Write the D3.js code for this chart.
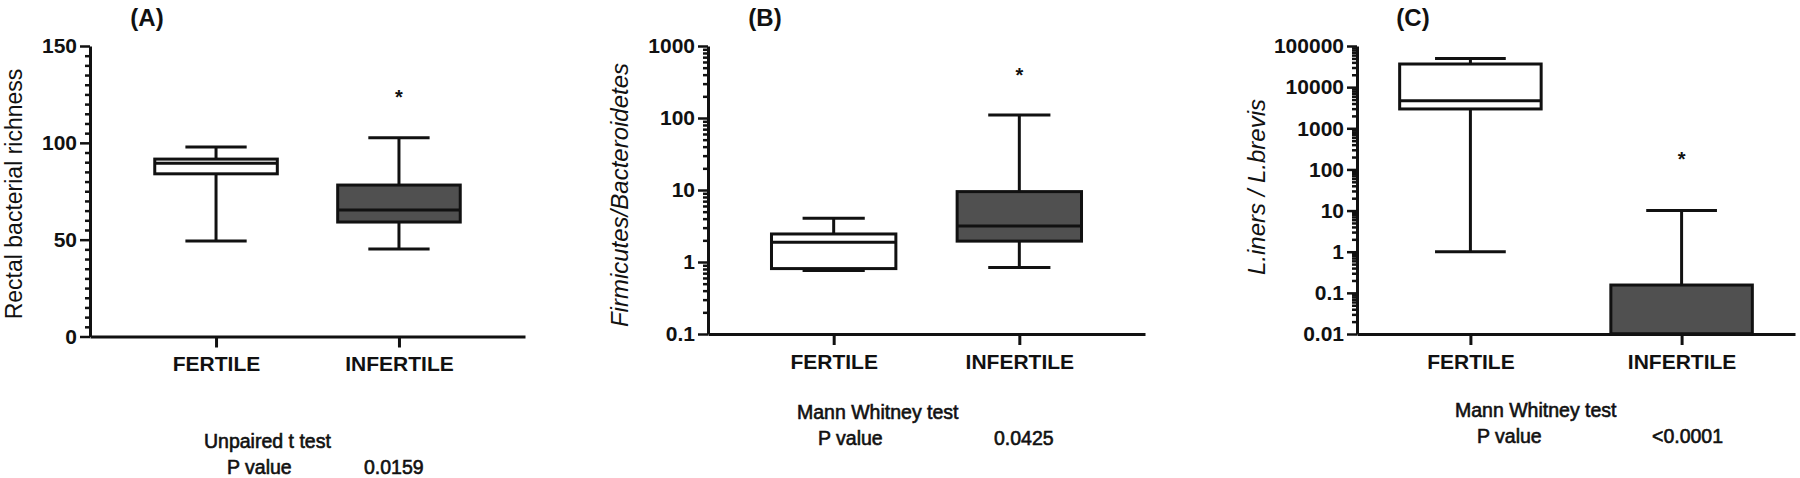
<!DOCTYPE html>
<html><head><meta charset="utf-8">
<script src="https://cdn.jsdelivr.net/npm/d3@7"></script>
<style>
body{margin:0;background:#fff;}
svg text{font-family:"Liberation Sans",Arial,sans-serif;fill:#111;}
</style></head>
<body><svg id="c" width="1800" height="478"></svg>
<script>
// ---------- data ----------
const categories = ["FERTILE", "INFERTILE"];
// box stats per group: [min, q1, median, q3, max]
const richnessStats = [[49.3, 84, 89.5, 91.6, 97.8], [45.2, 59.1, 65.3, 78.2, 102.6]];
const firmBactStats = [[0.76, 0.81, 1.88, 2.45, 4.05], [0.84, 1.95, 3.16, 9.5, 110]];
const inersBrevisStats = [[1, 2950, 4690, 36500, 50000], [0.01, 0.01, 0.01, 0.155, 10]];
// significance star (y value above INFERTILE)
const starValues = [125.6, 450, 224];
const tickLabelsA = ["0", "50", "100", "150"];
const tickLabelsB = ["0.1", "1", "10", "100", "1000"];
const tickLabelsC = ["0.01", "0.1", "1", "10", "100", "1000", "10000", "100000"];
const panelTitles = ["(A)", "(B)", "(C)"];
const yTitles = ["Rectal bacterial richness", "Firmicutes/Bacteroidetes", "L.iners / L.brevis"];
const testNames = ["Unpaired t test", "Mann Whitney test", "Mann Whitney test"];
const pValues = ["0.0159", "0.0425", "<0.0001"];

// ---------- drawing ----------
const svg = d3.select("#c");
const fillColors = ["#ffffff", "#505050"];

function drawPanel(o) {
  const g = svg.append("g");
  const x = d3.scalePoint().domain(categories).range([o.axisX, o.endX]).padding(o.pad);
  const y = o.y;
  const bw = x.step() * 0.67;

  // y axis major
  const ya = g.append("g").attr("transform", `translate(${o.axisX},0)`)
    .call(d3.axisLeft(y).tickValues(o.ticks.map(Number)).tickFormat((d, i) => o.ticks[i])
      .tickSize(10).tickSizeOuter(0).tickPadding(3));
  ya.select(".domain").attr("stroke-width", 3).attr("stroke", "#111");
  ya.selectAll(".tick line").attr("stroke-width", 2.5).attr("stroke", "#111");
  ya.selectAll(".tick text").attr("font-size", 21).attr("font-weight", "bold").attr("fill", "#111");
  // y axis minor
  const ym = g.append("g").attr("transform", `translate(${o.axisX},0)`)
    .call(d3.axisLeft(y).tickValues(o.minor).tickFormat("").tickSize(5).tickSizeOuter(0));
  ym.select(".domain").remove();
  ym.selectAll(".tick line").attr("stroke-width", 2.5).attr("stroke", "#111");

  // x axis
  const y0 = y.range()[0];
  const xa = g.append("g").attr("transform", `translate(0,${y0})`)
    .call(d3.axisBottom(x).tickSize(11).tickSizeOuter(0).tickPadding(9));
  xa.select(".domain").attr("stroke-width", 3).attr("stroke", "#111");
  xa.selectAll(".tick line").attr("stroke-width", 3).attr("stroke", "#111");
  xa.selectAll(".tick text").attr("font-size", 21).attr("font-weight", "bold").attr("fill", "#111");

  // boxes
  o.stats.forEach((s, i) => {
    const cx = x(categories[i]);
    const [mn, q1, md, q3, mx] = s;
    const bg = g.append("g").attr("stroke", "#111").attr("stroke-width", 3);
    bg.append("line").attr("x1", cx).attr("x2", cx).attr("y1", y(mx)).attr("y2", y(q3));
    bg.append("line").attr("x1", cx).attr("x2", cx).attr("y1", y(q1)).attr("y2", y(mn));
    bg.append("line").attr("x1", cx - bw / 4).attr("x2", cx + bw / 4).attr("y1", y(mx)).attr("y2", y(mx));
    bg.append("line").attr("x1", cx - bw / 4).attr("x2", cx + bw / 4).attr("y1", y(mn)).attr("y2", y(mn));
    bg.append("rect").attr("x", cx - bw / 2).attr("width", bw)
      .attr("y", y(q3)).attr("height", Math.max(0, y(q1) - y(q3))).attr("fill", fillColors[i]);
    bg.append("line").attr("x1", cx - bw / 2).attr("x2", cx + bw / 2).attr("y1", y(md)).attr("y2", y(md));
  });

  // star
  g.append("text").attr("x", x(categories[1])).attr("y", y(o.star) + 11)
    .attr("text-anchor", "middle").attr("font-size", 20).attr("font-weight", "bold").text("*");

  // panel title
  g.append("text").attr("x", o.titleX).attr("y", 26).attr("text-anchor", "middle")
    .attr("font-size", 24).attr("font-weight", "bold").text(o.title);

  // y title
  g.append("text").attr("transform", `translate(${o.yTitleX},${o.yTitleY}) rotate(-90)`)
    .attr("text-anchor", "middle").attr("font-size", o.yTitleSize)
    .attr("font-style", o.italic ? "italic" : "normal").text(o.yTitle);

  // test text
  const tt = g.append("g").attr("font-size", 19.5).attr("stroke", "#111").attr("stroke-width", 0.6);
  tt.append("text").attr("x", o.testX).attr("y", o.testY).text(o.testName);
  tt.append("text").attr("x", o.pX).attr("y", o.testY + 26).text("P value");
  tt.append("text").attr("x", o.pvX).attr("y", o.testY + 26).text(o.pValue);
}

function logMinor(lo, hi) {
  const out = [];
  for (let e = Math.log10(lo); e < Math.log10(hi); e++)
    for (let k = 2; k <= 9; k++) out.push(k * Math.pow(10, e));
  return out;
}

drawPanel({
  axisX: 90, endX: 525, pad: 0.689,
  y: d3.scaleLinear().domain([0, 150]).range([336.5, 46]),
  ticks: tickLabelsA, minor: d3.range(0, 151, 5).filter(v => v % 50 !== 0),
  stats: richnessStats, star: starValues[0],
  title: panelTitles[0], titleX: 147,
  yTitle: yTitles[0], yTitleX: 22, yTitleY: 194, yTitleSize: 23, italic: false,
  testName: testNames[0], testX: 204, testY: 448, pX: 227, pvX: 364, pValue: pValues[0]
});
drawPanel({
  axisX: 708, endX: 1145, pad: 0.677,
  y: d3.scaleLog().domain([0.1, 1000]).range([334, 46]),
  ticks: tickLabelsB, minor: logMinor(0.1, 1000),
  stats: firmBactStats, star: starValues[1],
  title: panelTitles[1], titleX: 765,
  yTitle: yTitles[1], yTitleX: 628, yTitleY: 195, yTitleSize: 24, italic: true,
  testName: testNames[1], testX: 797, testY: 419, pX: 818, pvX: 994, pValue: pValues[1]
});
drawPanel({
  axisX: 1357, endX: 1795, pad: 0.537,
  y: d3.scaleLog().domain([0.01, 100000]).range([334, 46]),
  ticks: tickLabelsC, minor: logMinor(0.01, 100000),
  stats: inersBrevisStats, star: starValues[2],
  title: panelTitles[2], titleX: 1413,
  yTitle: yTitles[2], yTitleX: 1265, yTitleY: 187, yTitleSize: 24, italic: true,
  testName: testNames[2], testX: 1455, testY: 417, pX: 1477, pvX: 1652, pValue: pValues[2]
});
</script></body></html>
